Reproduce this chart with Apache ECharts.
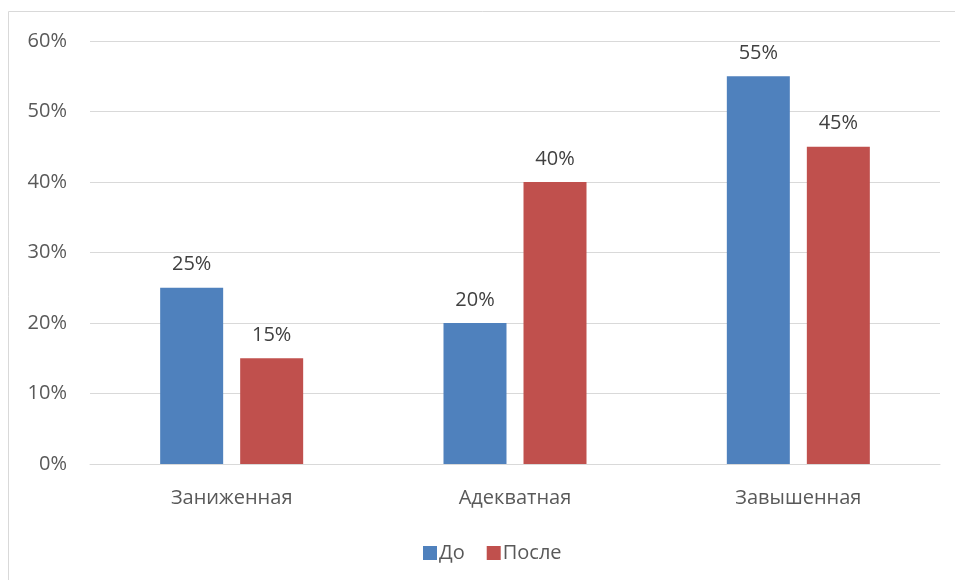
<!DOCTYPE html>
<html>
<head>
<meta charset="utf-8">
<script src="https://cdn.jsdelivr.net/npm/echarts@6/dist/echarts.min.js"></script>
<style>
  html, body { margin: 0; padding: 0; background: #fff; }
  #chart { width: 955px; height: 580px; }
</style>
</head>
<body>
<div id="chart"></div>
<script>
const categories = ['Заниженная', 'Адекватная', 'Завышенная']
const seriesNames = ['До', 'После']
const beforeValues = [25, 20, 55]
const afterValues = [15, 40, 45]
const colors = ['#4f81bd', '#c0504d']
const fontFamily = '"Open Sans", "Noto Sans", sans-serif'

const chart = echarts.init(document.getElementById('chart'))

const labelStyle = {
  show: true,
  position: 'top',
  distance: 13,
  formatter: p => p.value + '%',
  color: '#404040',
  fontSize: 20,
  fontFamily: fontFamily
}

chart.setOption({
  animation: false,
  textStyle: { fontFamily: fontFamily },
  graphic: [{
    type: 'rect',
    shape: { x: 8.5, y: 11.5, width: 1200, height: 1200 },
    style: { fill: 'none', stroke: '#d9d9d9', lineWidth: 1 },
    silent: true
  }],
  grid: {
    left: 90,
    right: 15,
    top: 41,
    bottom: 116
  },
  legend: {
    data: seriesNames,
    left: 418,
    top: 538,
    itemWidth: 14,
    itemHeight: 14,
    itemGap: 22,
    icon: 'rect',
    textStyle: { color: '#595959', fontSize: 20, fontFamily: fontFamily, padding: [0, 0, 0, -3] }
  },
  xAxis: {
    type: 'category',
    data: categories,
    axisTick: { show: false },
    axisLine: { lineStyle: { color: '#d9d9d9', width: 1 } },
    axisLabel: { color: '#595959', fontSize: 20, fontFamily: fontFamily, margin: 24 }
  },
  yAxis: {
    type: 'value',
    min: 0,
    max: 60,
    interval: 10,
    axisLabel: { color: '#595959', fontSize: 20, fontFamily: fontFamily, margin: 23, formatter: '{value}%' },
    splitLine: { lineStyle: { color: '#d9d9d9', width: 1 } },
    axisLine: { show: false },
    axisTick: { show: false }
  },
  series: [
    {
      name: seriesNames[0],
      type: 'bar',
      data: beforeValues,
      barWidth: 63,
      barGap: '27%',
      itemStyle: { color: colors[0] },
      label: labelStyle
    },
    {
      name: seriesNames[1],
      type: 'bar',
      data: afterValues,
      barWidth: 63,
      itemStyle: { color: colors[1] },
      label: labelStyle
    }
  ]
})
</script>
</body>
</html>
